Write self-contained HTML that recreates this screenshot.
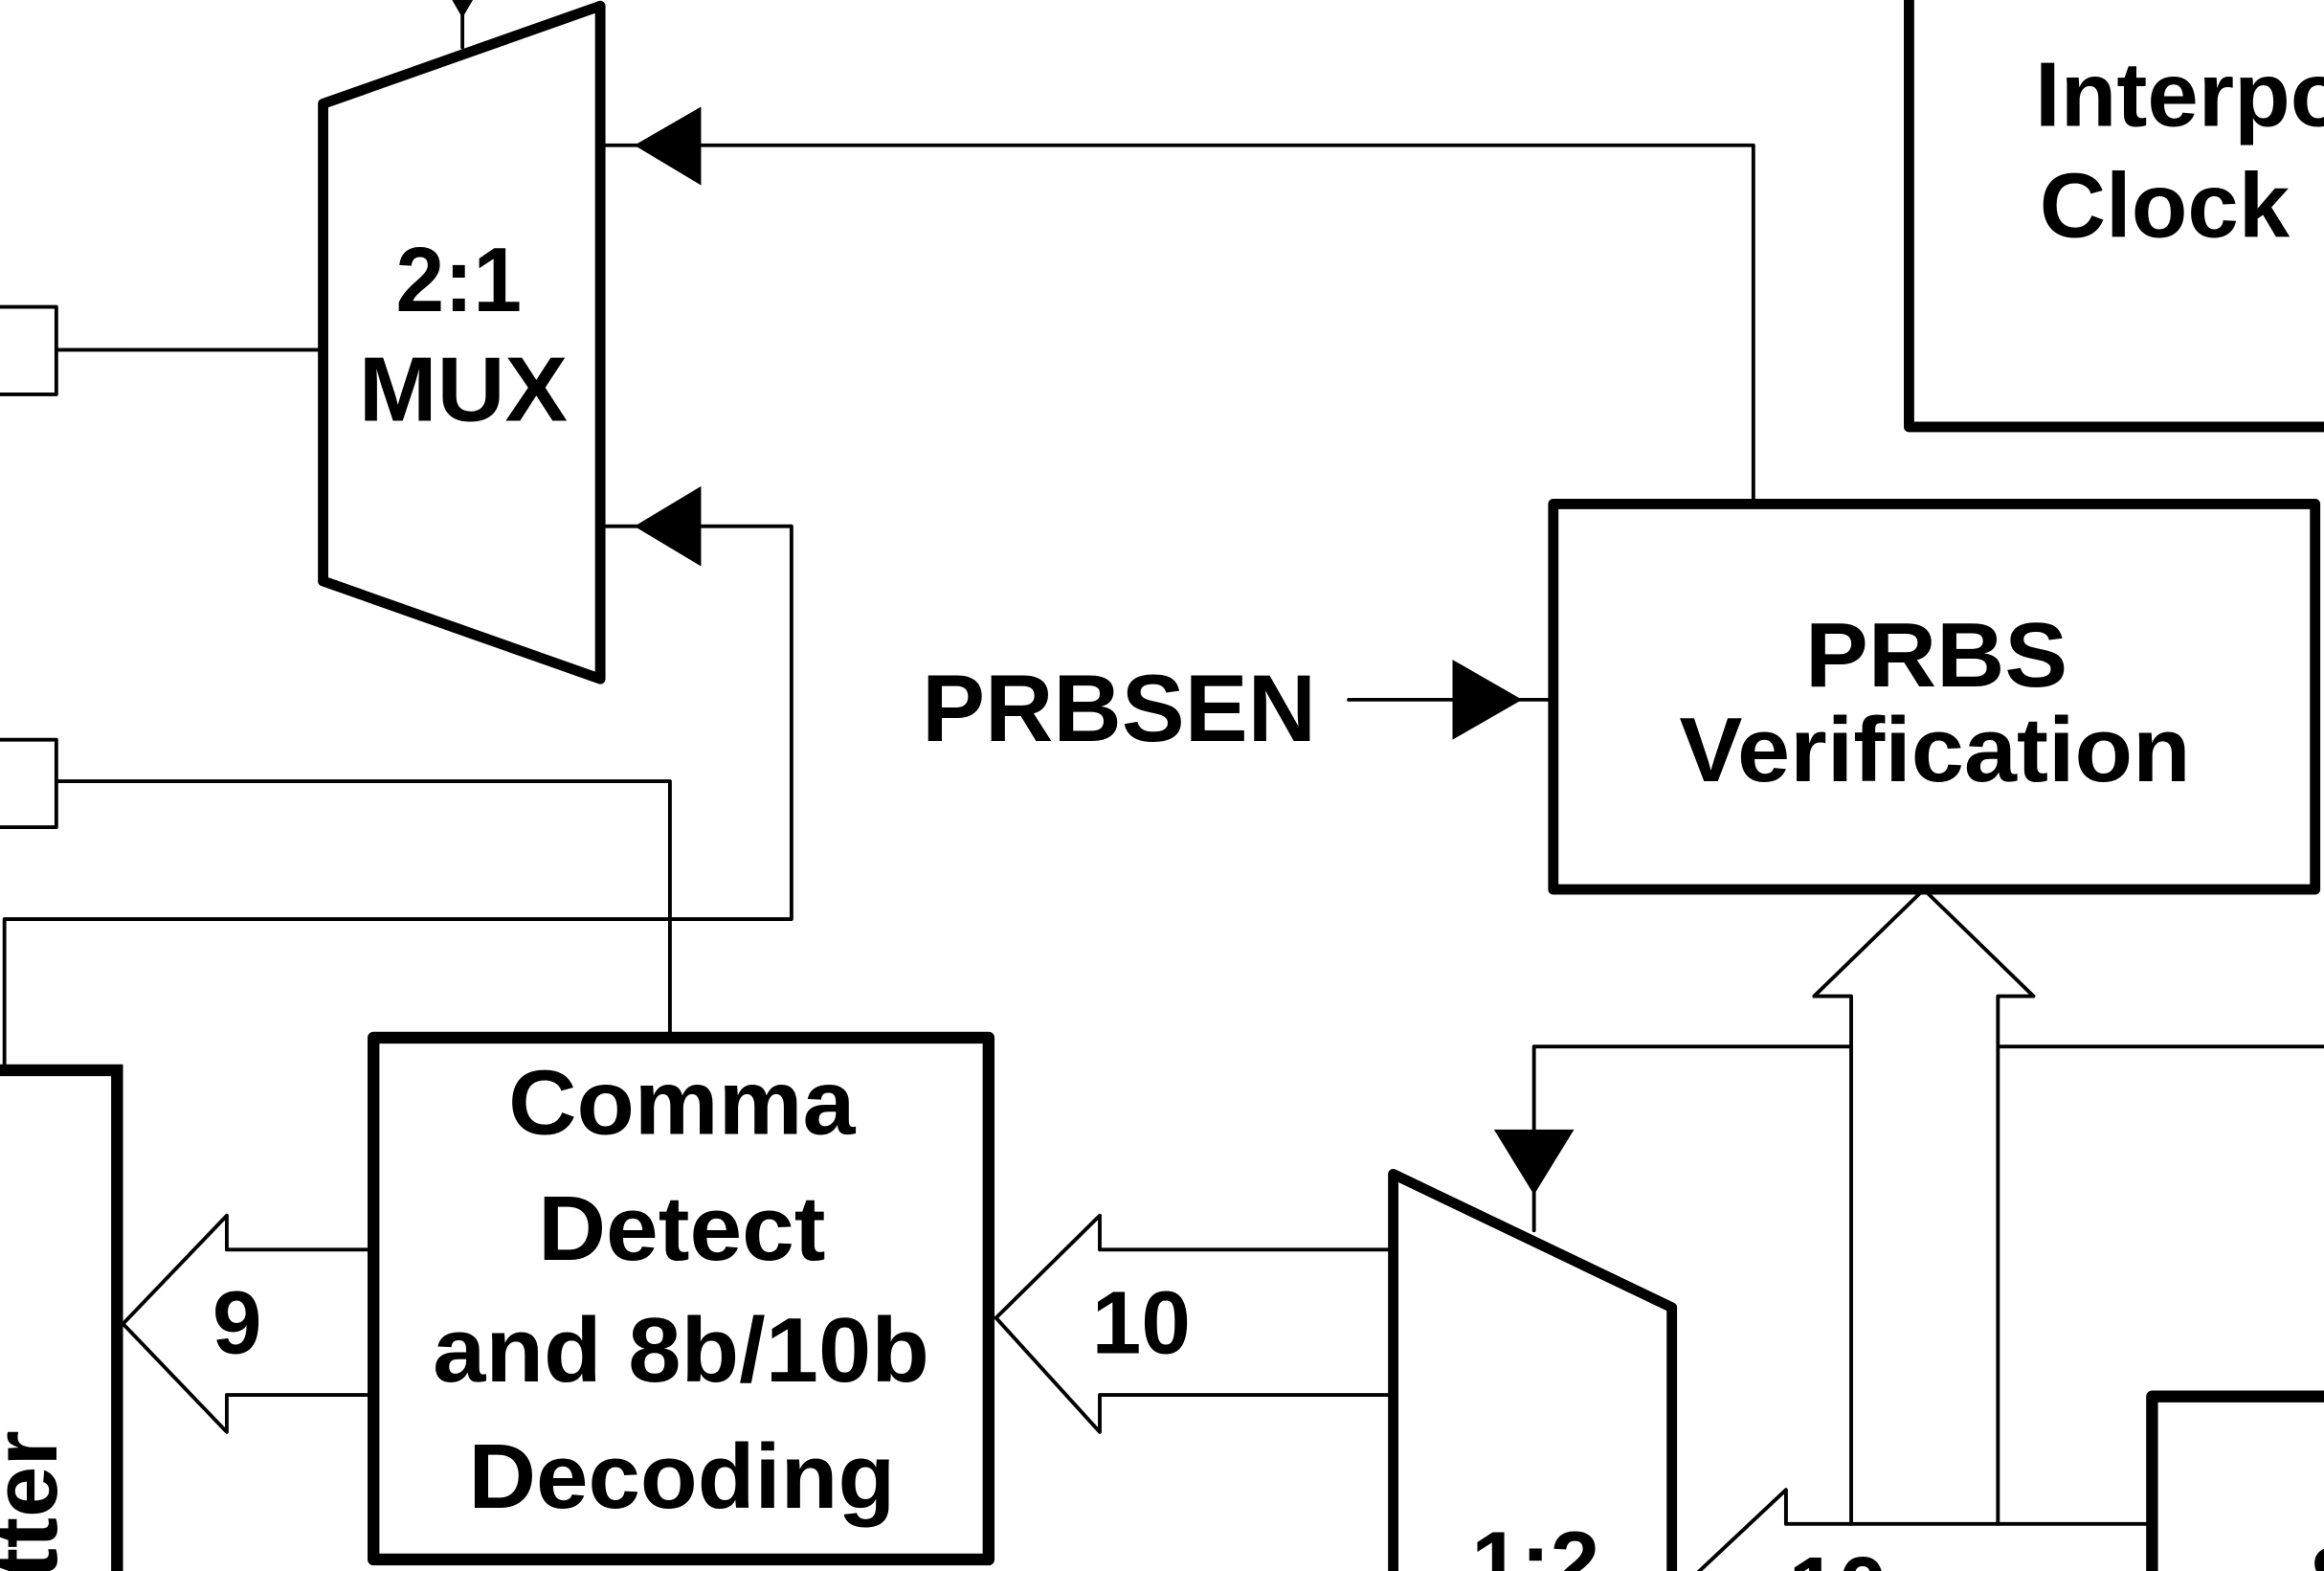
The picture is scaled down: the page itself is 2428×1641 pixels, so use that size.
<!DOCTYPE html>
<html><head><meta charset="utf-8"><style>
html,body{margin:0;padding:0;background:#fff;width:2428px;height:1641px;overflow:hidden;}
svg{display:block;}
text{font-family:"Liberation Sans",sans-serif;font-weight:bold;fill:#000;}
</style></head><body>
<svg width="2428" height="1641" viewBox="0 0 1568 1059.76" preserveAspectRatio="none" xmlns="http://www.w3.org/2000/svg">
<rect x="0" y="0" width="1568" height="1060" fill="#fff"/>
<g fill="none" stroke="#000" stroke-linejoin="round" stroke-linecap="round">
 <polygon points="218,70 405,4 405,458 218,392" stroke-width="7"/>
 <line x1="312" y1="0" x2="312" y2="32" stroke-width="2.5"/>
 <polyline points="0,207 38,207 38,266 0,266" stroke-width="2.5"/>
 <line x1="38" y1="236" x2="218" y2="236" stroke-width="2.5"/>
 <polyline points="0,499 38,499 38,558 0,558" stroke-width="2.5"/>
 <polyline points="38,527 452,527 452,699" stroke-width="2.5"/>
 <polyline points="409,98 1183,98 1183,338" stroke-width="2.5"/>
 <polyline points="409,355 534,355 534,620 3,620 3,718" stroke-width="2.5"/>
 <polyline points="0,722 79,722 79,1062" stroke-width="8" stroke-linejoin="miter"/>
 <rect x="1048" y="340" width="514" height="260" stroke-width="7"/>
 <line x1="910" y1="472" x2="1048" y2="472" stroke-width="2.5"/>
 <polyline points="1288,-10 1288,288 1580,288" stroke-width="7"/>
 <polyline points="1249,1028 1249,672 1224,672 1298,600 1372,672 1348,672 1348,1028" stroke-width="2.5"/>
 <polyline points="1249,706 1035,706 1035,830" stroke-width="2.5"/>
 <line x1="1348" y1="706" x2="1570" y2="706" stroke-width="2.5"/>
 <rect x="252" y="700" width="415" height="352" stroke-width="8"/>
 <polyline points="248,843 153,843 153,820 83,893 153,966 153,941 248,941" stroke-width="2.5"/>
 <polyline points="940,843 742,843 742,820 672,889 742,966 742,941 940,941" stroke-width="2.5"/>
 <polyline points="940,1070 940,792 1128,882 1128,1070" stroke-width="7"/>
 <polyline points="1140,1066 1205,1005 1205,1028 1450,1028" stroke-width="2.5"/>
 <polyline points="1452,1070 1452,942 1580,942" stroke-width="8"/>
</g>
<g fill="#000" stroke="none">
 <polygon points="305,0 319,0 312,12"/>
 <polygon points="428,98 473,72 473,125"/>
 <polygon points="428,355 473,328 473,382"/>
 <polygon points="1027,472 980,445 980,499"/>
 <polygon points="1008,762 1062,762 1035,806"/>
</g>
<text x="267" y="210" font-size="62" textLength="85" lengthAdjust="spacingAndGlyphs">2:1</text>
<text x="242" y="284" font-size="62" textLength="141" lengthAdjust="spacingAndGlyphs">MUX</text>
<text x="622" y="500" font-size="64" textLength="266" lengthAdjust="spacingAndGlyphs">PRBSEN</text>
<text x="1218" y="463" font-size="62" textLength="177" lengthAdjust="spacingAndGlyphs">PRBS</text>
<text x="1133" y="527" font-size="62" textLength="345" lengthAdjust="spacingAndGlyphs">Verification</text>
<text x="1373" y="85" font-size="62">Interpolator</text>
<text x="1376" y="160" font-size="62">Clock</text>
<text x="343" y="765" font-size="62" textLength="234" lengthAdjust="spacingAndGlyphs">Comma</text>
<text x="363" y="850" font-size="62" textLength="194" lengthAdjust="spacingAndGlyphs">Detect</text>
<text x="292" y="932" font-size="62" textLength="335" lengthAdjust="spacingAndGlyphs">and 8b/10b</text>
<text x="316" y="1017" font-size="62" textLength="288" lengthAdjust="spacingAndGlyphs">Decoding</text>
<text x="160" y="913" font-size="60" text-anchor="middle">9</text>
<text x="770" y="913" font-size="60" text-anchor="middle">10</text>
<text x="1036" y="1075" font-size="60" text-anchor="middle">1:2</text>
<text x="1240" y="1092" font-size="60" text-anchor="middle">10</text>
<text x="1558" y="1085" font-size="60">S</text>
<text x="0" y="0" font-size="62" text-anchor="end" transform="translate(38,965) rotate(-90)">Transmitter</text>
</svg>
</body></html>
